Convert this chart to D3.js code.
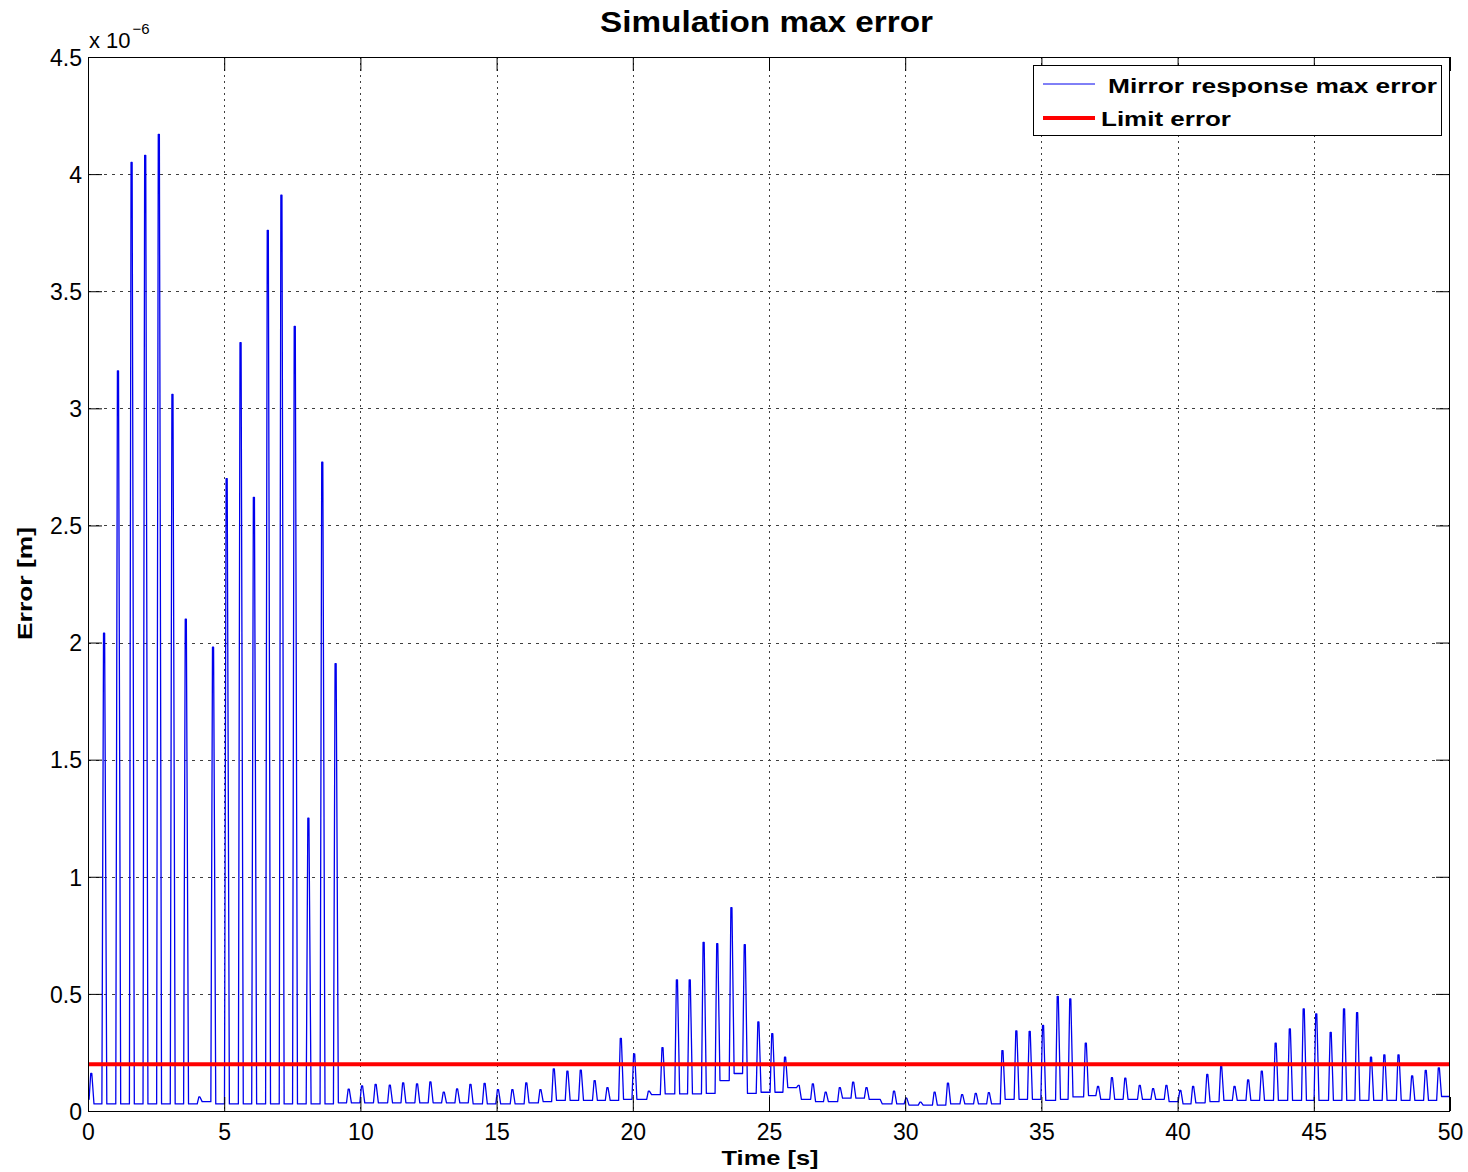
<!DOCTYPE html>
<html>
<head>
<meta charset="utf-8">
<script src="https://cdn.jsdelivr.net/npm/d3@7"></script>
<style>
  body { margin: 0; background: #fff; }
  svg { display: block; }
  text { font-family: "Liberation Sans", Arial, Helvetica, sans-serif; fill: #000; }
</style>
</head>
<body>
<svg id="chart" width="1468" height="1172"></svg>
<script>
// Peak time [s] of each error pulse
const pulseTimes = [
  0.13, 0.60, 1.11, 1.61, 2.11, 2.61, 3.11, 3.60, 4.10, 4.60, 5.10, 5.61, 6.10, 6.61, 7.11, 7.60, 8.10, 8.61, 9.10,
  9.58, 10.07, 10.57, 11.09, 11.58, 12.09, 12.58, 13.07, 13.56, 14.05, 14.57, 15.06, 15.59, 16.10, 16.62, 17.11, 17.61, 18.10, 18.61, 19.08,
  19.57, 20.06, 20.60, 21.10, 21.63, 22.10, 22.61, 23.11, 23.63, 24.12, 24.62, 25.13, 25.60, 26.10,
  26.62, 27.09, 27.61, 28.10, 28.59, 29.07, 29.60, 30.05, 30.57, 31.09, 31.58, 32.10, 32.60, 33.08,
  33.58, 34.09, 34.58, 35.07, 35.61, 36.07, 36.64, 37.09, 37.60, 38.09, 38.62, 39.11, 39.60, 40.11, 40.58, 41.10, 41.61,
  42.10, 42.60, 43.10, 43.61, 44.13, 44.64, 45.10, 45.63, 46.12, 46.60, 47.11, 47.60, 48.12, 48.62, 49.12, 49.60
];

// Peak error of each pulse [x 1e-6 m]
const pulsePeaks = [
  0.16, 2.04, 3.16, 4.05, 4.08, 4.17, 3.06, 2.10, 0.06, 1.98, 2.70, 3.28, 2.62, 3.76, 3.91, 3.35, 1.25, 2.77, 1.91,
  0.093, 0.107, 0.114, 0.110, 0.120, 0.116, 0.124, 0.081, 0.094, 0.114, 0.118, 0.091, 0.091, 0.120, 0.091, 0.180, 0.170, 0.174, 0.130, 0.100,
  0.31, 0.244, 0.085, 0.27, 0.56, 0.56, 0.72, 0.714, 0.868, 0.71, 0.38, 0.33, 0.23, 0.109,
  0.116, 0.08, 0.10, 0.123, 0.10, 0.05, 0.085, 0.055, 0.038, 0.08, 0.119, 0.07, 0.075, 0.078,
  0.258, 0.342, 0.34, 0.365, 0.489, 0.479, 0.29, 0.105, 0.142, 0.14, 0.109, 0.095, 0.109, 0.088, 0.105, 0.156, 0.19,
  0.105, 0.133, 0.17, 0.29, 0.35, 0.436, 0.415, 0.336, 0.436, 0.42, 0.23, 0.24, 0.24, 0.15, 0.173, 0.184
];

// Error level the response settles to after each pulse [x 1e-6 m]
const troughLevels = [
  0.03, 0.03, 0.03, 0.03, 0.03, 0.03, 0.03, 0.03, 0.04, 0.03, 0.03, 0.03, 0.03, 0.03, 0.03, 0.03, 0.03, 0.03, 0.035,
  0.035, 0.035, 0.035, 0.035, 0.035, 0.035, 0.035, 0.035, 0.035, 0.03, 0.03, 0.03, 0.03, 0.035, 0.04, 0.045, 0.045, 0.045, 0.045, 0.045,
  0.05, 0.05, 0.07, 0.073, 0.073, 0.073, 0.075, 0.13, 0.16, 0.075, 0.08, 0.08, 0.10, 0.05,
  0.04, 0.04, 0.055, 0.055, 0.05, 0.03, 0.03, 0.025, 0.025, 0.025, 0.03, 0.03, 0.03, 0.03,
  0.05, 0.05, 0.05, 0.045, 0.05, 0.06, 0.066, 0.05, 0.05, 0.05, 0.05, 0.05, 0.04, 0.03, 0.035, 0.04, 0.045,
  0.045, 0.045, 0.045, 0.045, 0.045, 0.045, 0.045, 0.045, 0.045, 0.045, 0.045, 0.045, 0.045, 0.045, 0.045, 0.062
];

const startLevel = 0.05;   // error at t = 0
const endLevel = 0.062;    // error at t = 50 s
const limitError = 0.2;    // allowed error [x 1e-6 m]

const xTicks = [0, 5, 10, 15, 20, 25, 30, 35, 40, 45, 50];
const yTicks = [0, 0.5, 1, 1.5, 2, 2.5, 3, 3.5, 4, 4.5];
const yTickLabels = ["0", "0.5", "1", "1.5", "2", "2.5", "3", "3.5", "4", "4.5"];

// ---- layout ----
const W = 1468, H = 1172;
const plot = { left: 88, right: 1450, top: 57, bottom: 1111 };
const tickLen = 14;

const svg = d3.select("#chart");
svg.append("rect").attr("width", W).attr("height", H).attr("fill", "#fff");

const x = d3.scaleLinear().domain([0, 50]).range([plot.left, plot.right]);
const y = d3.scaleLinear().domain([0, 4.5]).range([plot.bottom, plot.top]);

// dotted grid
const grid = svg.append("g").attr("stroke", "#000").attr("stroke-width", 1).attr("opacity", 0.75);
grid.selectAll("line.v").data(xTicks.slice(1, -1)).join("line")
  .attr("x1", d => Math.round(x(d)) + 0.5).attr("x2", d => Math.round(x(d)) + 0.5)
  .attr("y1", plot.top).attr("y2", plot.bottom)
  .attr("stroke-dasharray", "2,4");
grid.selectAll("line.h").data(yTicks.slice(1, -1)).join("line")
  .attr("y1", d => Math.round(y(d)) + 0.5).attr("y2", d => Math.round(y(d)) + 0.5)
  .attr("x1", plot.left).attr("x2", plot.right)
  .attr("stroke-dasharray", "3,5");

// error trace: each pulse rises from the previous settle level, peaks, then falls back
const riseStart = 0.09, riseEnd = 0.03, fallStart = 0.01, fallEnd = 0.09;
const points = [[0, startLevel]];
pulseTimes.forEach((t, i) => {
  const before = i === 0 ? startLevel : troughLevels[i - 1];
  points.push(
    [t - riseStart, before],
    [t - riseEnd, pulsePeaks[i]],
    [t + fallStart, pulsePeaks[i]],
    [t + fallEnd, troughLevels[i]]
  );
});
points.push([50, endLevel]);

const line = d3.line().x(d => x(d[0])).y(d => y(d[1]));
svg.append("clipPath").attr("id", "plotClip").append("rect")
  .attr("x", plot.left).attr("y", plot.top)
  .attr("width", plot.right - plot.left).attr("height", plot.bottom - plot.top);

svg.append("path").datum(points)
  .attr("d", line)
  .attr("fill", "none")
  .attr("stroke", "#0000ee")
  .attr("stroke-width", 1.3)
  .attr("stroke-linejoin", "round")
  .attr("clip-path", "url(#plotClip)");

// limit line
svg.append("path").datum([[0, limitError], [50, limitError]])
  .attr("d", line)
  .attr("fill", "none")
  .attr("stroke", "#ff0000")
  .attr("stroke-width", 4);

// axes: ticks drawn inward on all four sides
const fontTicks = "23px";
const gx = svg.append("g").attr("transform", `translate(0,${plot.bottom})`)
  .call(d3.axisBottom(x).tickValues(xTicks).tickSize(-tickLen).tickPadding(6).tickFormat(d3.format("d")));
const gy = svg.append("g").attr("transform", `translate(${plot.left},0)`)
  .call(d3.axisLeft(y).tickValues(yTicks).tickSize(-tickLen).tickPadding(6).tickFormat((d, i) => yTickLabels[i]));
const gt = svg.append("g").attr("transform", `translate(0,${plot.top})`)
  .call(d3.axisTop(x).tickValues(xTicks).tickSize(-tickLen).tickFormat(""));
const gr = svg.append("g").attr("transform", `translate(${plot.right},0)`)
  .call(d3.axisRight(y).tickValues(yTicks).tickSize(-tickLen).tickFormat(""));

[gx, gy, gt, gr].forEach(g => {
  g.select(".domain").remove();
  g.selectAll(".tick line").attr("stroke", "#000").attr("stroke-width", 1);
  g.selectAll("text").attr("font-size", fontTicks).attr("fill", "#000")
    .attr("font-family", "'Liberation Sans', Arial, sans-serif");
});
gx.selectAll("text").attr("dy", null).attr("y", 29);
gy.selectAll("text").attr("x", -6).attr("dy", "0.36em");

// plot box
svg.append("rect")
  .attr("x", plot.left + 0.5).attr("y", plot.top + 0.5)
  .attr("width", plot.right - plot.left - 1).attr("height", plot.bottom - plot.top)
  .attr("fill", "none").attr("stroke", "#000").attr("stroke-width", 1);

// exponent of the y axis
const expo = svg.append("text").attr("x", 89).attr("y", 48).attr("font-size", "22px");
expo.append("tspan").text("x 10");
expo.append("tspan").attr("font-size", "15px").attr("dy", -14).attr("dx", 2).text("\u22126");

// title and axis labels
svg.append("text").attr("x", 766.5).attr("y", 32).attr("text-anchor", "middle")
  .attr("font-size", "29px").attr("font-weight", "bold")
  .attr("textLength", 333).attr("lengthAdjust", "spacingAndGlyphs")
  .text("Simulation max error");
svg.append("text").attr("x", 770).attr("y", 1165).attr("text-anchor", "middle")
  .attr("font-size", "21px").attr("font-weight", "bold")
  .attr("textLength", 97).attr("lengthAdjust", "spacingAndGlyphs")
  .text("Time [s]");
svg.append("text").attr("transform", "translate(32,583.5) rotate(-90)").attr("text-anchor", "middle")
  .attr("font-size", "21px").attr("font-weight", "bold")
  .attr("textLength", 113).attr("lengthAdjust", "spacingAndGlyphs")
  .text("Error [m]");

// legend
const lg = svg.append("g");
lg.append("rect").attr("x", 1033.5).attr("y", 65.5).attr("width", 408).attr("height", 70)
  .attr("fill", "#fff").attr("stroke", "#000").attr("stroke-width", 1);
lg.append("line").attr("x1", 1043).attr("x2", 1095).attr("y1", 84).attr("y2", 84)
  .attr("stroke", "#0000ee").attr("stroke-width", 1);
lg.append("line").attr("x1", 1043).attr("x2", 1095).attr("y1", 118).attr("y2", 118)
  .attr("stroke", "#ff0000").attr("stroke-width", 4);
lg.append("text").attr("x", 1108).attr("y", 93).attr("font-size", "20px").attr("font-weight", "bold")
  .attr("textLength", 329).attr("lengthAdjust", "spacingAndGlyphs")
  .text("Mirror response max error");
lg.append("text").attr("x", 1101).attr("y", 126).attr("font-size", "20px").attr("font-weight", "bold")
  .attr("textLength", 130).attr("lengthAdjust", "spacingAndGlyphs")
  .text("Limit error");
</script>
</body>
</html>
